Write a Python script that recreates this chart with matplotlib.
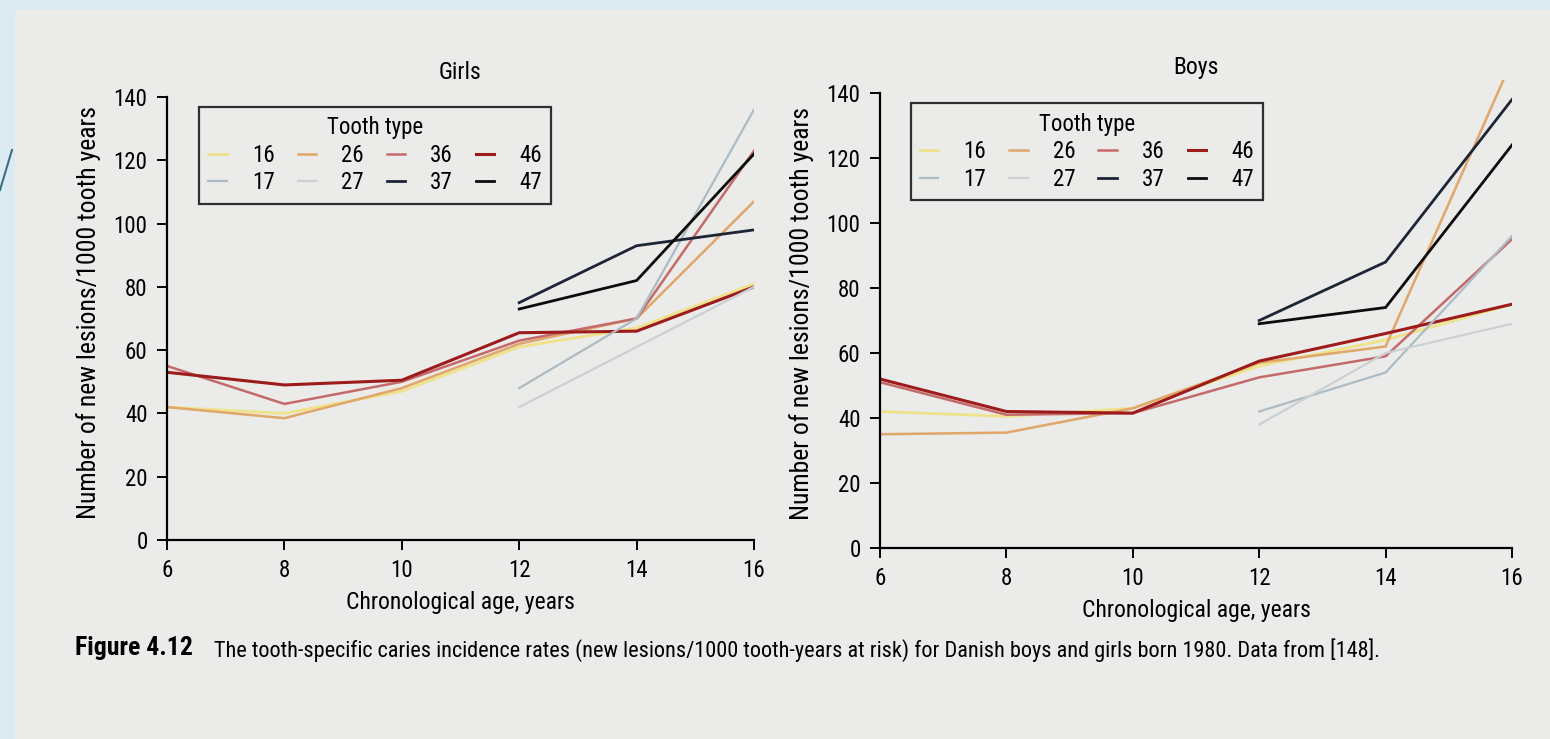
import matplotlib
matplotlib.use('Agg')
import matplotlib.pyplot as plt
from matplotlib import font_manager
from matplotlib.patches import Rectangle
from matplotlib.lines import Line2D

installed = {f.name for f in font_manager.fontManager.ttflist}
wanted = ['Liberation Sans Narrow', 'Roboto Condensed', 'Open Sans', 'Lato']
main_font = next((f for f in wanted if f in installed), 'DejaVu Sans')
plt.rcParams['font.family'] = [main_font, 'DejaVu Sans']

# ages at which every tooth type was recorded, and the later ones (second molars)
ages = [6, 8, 10, 12, 14, 16]
ages_late = [12, 14, 16]

tooth_types = ['16', '26', '36', '46', '17', '27', '37', '47']

# girls, new lesions / 1000 tooth years
girls_16 = [42, 40, 47, 61, 67, 81]
girls_26 = [42, 38.5, 48, 62, 70, 107]
girls_36 = [55, 43, 50, 63, 70, 123]
girls_46 = [53, 49, 50.5, 65.5, 66, 80]
girls_17 = [48, 70, 136]
girls_27 = [42, 61, 80]
girls_37 = [75, 93, 98]
girls_47 = [73, 82, 122]

# boys
boys_16 = [42, 40.5, 43, 56, 64, 75]
boys_26 = [35, 35.5, 43, 57, 62, 150]
boys_36 = [51, 41, 41.5, 52.5, 59, 95]
boys_46 = [52, 42, 41.5, 57.5, 66, 75]
boys_17 = [42, 54, 96]
boys_27 = [38, 60, 69]
boys_37 = [70, 88, 138]
boys_47 = [69, 74, 124]

colors = {
    '16': '#eee28a', '26': '#e0a66a', '36': '#c46a6a', '46': '#9c1c1c',
    '17': '#adbbc5', '27': '#cbd1d3', '37': '#1c2436', '47': '#0c0c0c',
}
widths = {'16': 2.0, '26': 1.8, '36': 1.8, '46': 2.2,
          '17': 1.6, '27': 1.6, '37': 2.0, '47': 2.0}

page = '#ebebe9'
fig = plt.figure(figsize=(15.5, 7.39), dpi=100, facecolor='#dcebf1')
fig.patches.append(Rectangle((15 / 1550, 0), 1, 1 - 10 / 739,
                             transform=fig.transFigure, facecolor=page,
                             edgecolor='none', zorder=-10))
fig.lines.append(Line2D([0, 12 / 1550], [1 - 190 / 739, 1 - 150 / 739],
                        transform=fig.transFigure, color='#3a6f86', lw=1.5))


def draw_panel(rect, title, series, legend_x):
    ax = fig.add_axes(rect)
    ax.set_facecolor('none')
    for t in tooth_types:
        vals = series[t]
        xs = ages if len(vals) == len(ages) else ages_late
        ax.plot(xs, vals, color=colors[t], lw=widths[t], label=t,
                solid_joinstyle='miter')
    ax.set_xlim(6, 16)
    ax.set_ylim(0, 144)
    ax.set_xticks(ages)
    ax.set_yticks(range(0, 141, 20))
    for s in ['top', 'right']:
        ax.spines[s].set_visible(False)
    ax.spines['left'].set_bounds(0, 140)
    for s in ['left', 'bottom']:
        ax.spines[s].set_linewidth(1.6)
    ax.tick_params(direction='out', length=7, width=1.4, labelsize=16.5,
                   pad=7)
    ax.set_title(title, fontsize=17, pad=4)
    ax.set_xlabel('Chronological age, years', fontsize=17, labelpad=6)
    ax.set_ylabel('Number of new lesions/1000 tooth years', fontsize=18.5,
                  labelpad=9)

    h, l = ax.get_legend_handles_labels()
    order = [0, 4, 1, 5, 2, 6, 3, 7]  # legend fills by column
    leg = ax.legend([h[i] for i in order], [l[i] for i in order], ncol=4,
                    title='Tooth type', loc='upper left',
                    bbox_to_anchor=(legend_x, 0.95), borderaxespad=0,
                    fontsize=16.5, title_fontsize=16.5, frameon=True,
                    fancybox=False, handlelength=0.8, handletextpad=1.1,
                    columnspacing=1.0, borderpad=0.4, labelspacing=0.2)
    leg.get_frame().set_edgecolor('black')
    leg.get_frame().set_linewidth(1.6)
    leg.get_frame().set_facecolor('none')
    return ax


girls = {'16': girls_16, '26': girls_26, '36': girls_36, '46': girls_46,
         '17': girls_17, '27': girls_27, '37': girls_37, '47': girls_47}
boys = {'16': boys_16, '26': boys_26, '36': boys_36, '46': boys_46,
        '17': boys_17, '27': boys_27, '37': boys_37, '47': boys_47}

draw_panel([167 / 1550, 199 / 739, 587 / 1550, 443 * 144 / 140 / 739],
           'Girls', girls, 0.055)
draw_panel([880 / 1550, 191 / 739, 632 / 1550, 455 * 144 / 140 / 739],
           'Boys', boys, 0.049)

fig.text(75 / 1550, 1 - 648 / 739, 'Figure 4.12', fontsize=18.5,
         fontweight='bold', va='center')
fig.text(214 / 1550, 1 - 650 / 739,
         'The tooth-specific caries incidence rates (new lesions/1000 '
         'tooth-years at risk) for Danish boys and girls born 1980. '
         'Data from [148].', fontsize=16, va='center')

fig.savefig('out.png', dpi=100, facecolor=fig.get_facecolor())
